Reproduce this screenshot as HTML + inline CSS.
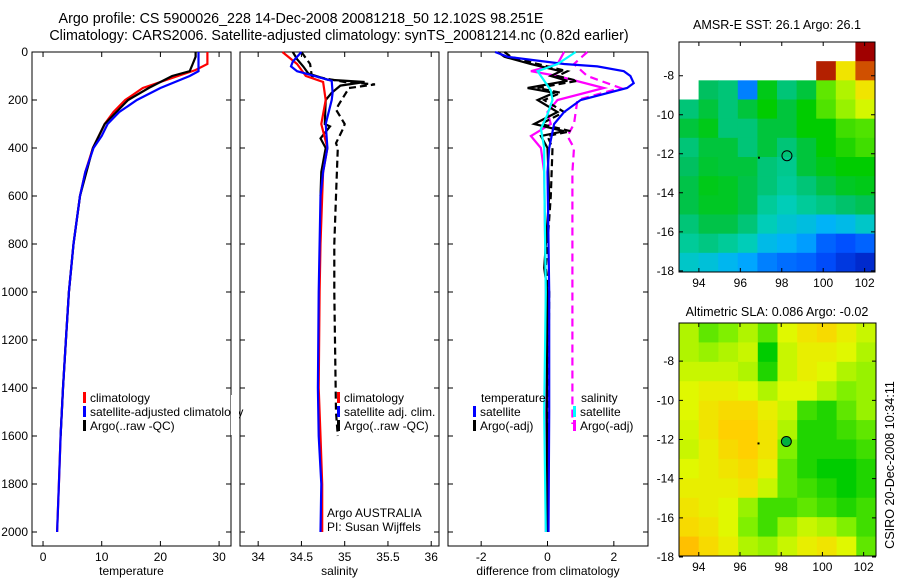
<!DOCTYPE html>
<html><head><meta charset="utf-8"><style>
body{margin:0;background:#fff}
svg{display:block;font-family:"Liberation Sans",sans-serif;font-size:12px}
</style></head><body>
<svg id="c" width="900" height="580" viewBox="0 0 900 580">
<text x="301" y="23" text-anchor="middle" style="font-size:14.3px">Argo profile: CS 5900026_228 14-Dec-2008 20081218_50 12.102S 98.251E</text>
<text x="339" y="40" text-anchor="middle" style="font-size:14.3px">Climatology: CARS2006. Satellite-adjusted climatology: synTS_20081214.nc (0.82d earlier)</text>
<text x="777" y="29" text-anchor="middle" style="font-size:12.6px">AMSR-E SST: 26.1 Argo: 26.1</text>
<text x="777" y="316" text-anchor="middle" style="font-size:12.6px">Altimetric SLA: 0.086 Argo: -0.02</text>
<text transform="translate(894,465) rotate(-90)" text-anchor="middle" style="font-size:12.6px">CSIRO 20-Dec-2008 10:34:11</text>
<g id="g"></g>
</svg>
<script>
// ---- profile data (depth in dbar) ----
const tClimDepth=[0,50,75,100,150,200,250,300,400,500,600,800,1000,1200,1400,1600,1800,2000];
const tClim=[28,28,26,23,17,14,12,10.5,8.5,7.2,6.3,5.2,4.4,3.9,3.4,3.0,2.7,2.4];
const tSatDepth=[0,80,100,150,200,250,300,350,400,500,600,800,1000,1200,1400,1600,1800,2000];
const tSat=[26.5,26.5,25,20,16,13,11,10,8.6,7.2,6.3,5.2,4.4,3.9,3.4,3.0,2.7,2.4];
const tArgoDepth=[0,20,50,80,100,150,200,250,300,400,600,800,1000,1200,1400,1600];
const tArgo=[26,26,25.5,25,22,18,14.5,12.5,10.5,8.5,6.3,5.2,4.4,3.9,3.4,3.0];

const sClimDepth=[0,50,100,125,200,300,400,500,600,800,1000,1400,1600,1800,2000];
const sClim=[34.28,34.45,34.55,34.75,34.78,34.73,34.8,34.75,34.74,34.72,34.71,34.7,34.72,34.74,34.74];
const sSatDepth=[0,40,60,80,90,120,170,200,300,400,500,600,1000,1400,1600,1800,2000];
const sSat=[34.5,34.4,34.38,34.45,34.55,34.85,34.86,34.85,34.78,34.8,34.75,34.72,34.7,34.69,34.7,34.73,34.72];
const sArgoDepth=[0,30,60,90,115,125,140,170,200,300,310,360,400,500,600];
const sArgo=[34.4,34.45,34.52,34.58,34.8,35.23,34.95,34.85,34.78,34.77,34.83,34.72,34.78,34.73,34.72];
const sRawDepth=[0,50,100,125,135,150,220,240,300,320,380,400,600,800,1000,1500,1600];
const sRaw=[34.5,34.6,34.62,35.0,35.35,35.05,34.93,34.9,35.0,34.98,34.9,34.92,34.9,34.88,34.88,34.9,34.92];

const dTSatDepth=[0,20,50,60,80,100,130,150,200,250,300,400,500,1000,1500,2000];
const dTSat=[-1.58,-1.2,0.5,1.5,2.3,2.5,2.6,2.4,1.0,0.5,0.2,0.05,0,0.05,0.05,0.03];
const dSSatDepth=[0,50,80,120,160,200,260,320,400,500,1000,1500,2000];
const dSSat=[0.85,0.3,-0.3,-0.1,0.1,0.15,0,-0.2,-0.1,-0.1,-0.05,-0.1,-0.05];
const dTArgoDepth=[0,20,50,80,100,120,150,170,200,250,300,330,350,400,600,900,1000,1500,2000];
const dTArgo=[-1.5,-1.3,-0.5,0.4,0.1,0.6,-0.6,0.2,-0.3,0.3,-0.4,0.5,-0.2,0,0.05,-0.1,0,-0.02,0];
const dTRaw=[-1.3,-1.1,-0.3,0.6,0.3,0.9,-0.3,0.4,-0.1,0.5,-0.2,0.7,0,0.15,0.1,-0.05,0.05,0.02,0.02];
const dSArgoDepth=[0,50,80,100,150,200,250,300,350,400,500,1000,1500,2000];
const dSArgo=[0.5,0.3,-0.5,0.3,1.7,0.3,0,0.1,-0.5,-0.2,-0.1,-0.05,-0.05,-0.05];
const dSRawDepth=[0,50,100,150,200,300,350,400,500,1000,1550];
const dSRaw=[1.2,0.8,1.2,2.2,0.9,0.8,0.6,0.8,0.75,0.75,0.75];

// ---- map data (colour index 0..1, null = missing) ----
const sstLon=[93.04,102.5], sstLat=[-6.27,-18.06];
const sstGrid=[
[null,null,null,null,null,null,null,null,null,1.0],
[null,null,null,null,null,null,null,0.98,0.8,0.95],
[null,0.52,0.5,0.3,0.58,0.5,0.55,0.66,0.72,0.8],
[0.5,0.55,0.5,0.55,0.6,0.55,0.6,0.65,0.7,0.75],
[0.55,0.58,0.5,0.5,0.55,0.55,0.6,0.6,0.64,0.65],
[0.5,0.55,0.55,0.5,0.55,0.5,0.55,0.6,0.62,0.64],
[0.52,0.56,0.55,0.55,0.5,0.48,0.55,0.58,0.6,0.6],
[0.54,0.58,0.57,0.54,0.5,0.47,0.5,0.54,0.57,0.58],
[0.54,0.57,0.57,0.54,0.47,0.44,0.47,0.49,0.51,0.53],
[0.5,0.54,0.54,0.5,0.44,0.41,0.39,0.36,0.38,0.42],
[0.47,0.49,0.47,0.44,0.38,0.36,0.33,0.27,0.25,0.27],
[0.42,0.4,0.37,0.34,0.3,0.28,0.27,0.24,0.2,0.17]];
const slaLon=[93.04,102.6], slaLat=[-6.05,-17.95];
const slaGrid=[
[0.72,0.66,0.68,0.72,0.66,0.76,0.8,0.82,0.78,0.74],
[0.72,0.7,0.72,0.74,0.6,0.74,0.78,0.78,0.76,0.72],
[0.74,0.74,0.74,0.72,0.62,0.74,0.78,0.76,0.72,0.7],
[0.76,0.78,0.78,0.76,0.72,0.76,0.76,0.72,0.68,0.7],
[0.76,0.8,0.82,0.82,0.78,0.74,0.64,0.62,0.66,0.7],
[0.75,0.8,0.84,0.84,0.8,0.72,0.62,0.62,0.64,0.66],
[0.74,0.78,0.82,0.84,0.8,0.68,0.62,0.62,0.62,0.64],
[0.76,0.78,0.8,0.82,0.78,0.66,0.62,0.6,0.6,0.62],
[0.78,0.78,0.78,0.8,0.74,0.66,0.64,0.62,0.6,0.62],
[0.8,0.78,0.76,0.7,0.64,0.64,0.66,0.64,0.62,0.64],
[0.82,0.8,0.76,0.68,0.64,0.7,0.74,0.72,0.68,0.64],
[0.86,0.82,0.78,0.72,0.7,0.74,0.78,0.8,0.76,0.66]];
const floatPos=[98.25,-12.1];
const depthTicks=[0,200,400,600,800,1000,1200,1400,1600,1800,2000];
const tTicks=[0,10,20,30];
const sTicks=[34,34.5,35,35.5,36];
const dTicks=[-2,0,2];
const lonTicks=[94,96,98,100,102];
const latTicks=[-8,-10,-12,-14,-16,-18];

const NS='http://www.w3.org/2000/svg';
const G=document.getElementById('g');
function mk(t,a,p){const e=document.createElementNS(NS,t);for(const k in a)e.setAttribute(k,a[k]);(p||G).appendChild(e);return e;}
const yD=d=>52+d*0.24;
const stops=[[0,[0,0,143]],[0.15,[0,32,192]],[0.25,[0,80,255]],[0.35,[0,176,255]],[0.45,[0,208,176]],[0.52,[0,192,96]],[0.6,[0,204,0]],[0.68,[128,240,0]],[0.76,[224,248,0]],[0.84,[255,208,0]],[0.9,[255,160,0]],[1,[160,0,0]]];
function col(v){for(let i=1;i<stops.length;i++){if(v<=stops[i][0]){const a=stops[i-1],b=stops[i],f=(v-a[0])/(b[0]-a[0]);return 'rgb('+a[1].map((c,j)=>Math.round(c+(b[1][j]-c)*f)).join(',')+')';}}return 'rgb(160,0,0)';}

function panel(name,x0,x1,v0,v1,ticks,label){
  const sx=v=>x0+(v-v0)/(v1-v0)*(x1-x0);
  const box=mk('rect',{x:x0,y:52,width:x1-x0,height:494,fill:'none',stroke:'#000','stroke-width':1});
  
  
  depthTicks.forEach(d=>{
    const t=mk('path',{d:`M${x0},${yD(d)}h5M${x1},${yD(d)}h-5`,stroke:'#000'});
    
    
    if(name==='temperature'){
      const l=mk('text',{x:x0-4,y:yD(d)+4,'text-anchor':'end'});l.textContent=d;
      
      
    }
  });
  ticks.forEach(v=>{
    const t=mk('path',{d:`M${sx(v)},546v-5M${sx(v)},52v5`,stroke:'#000'});
    
    
    const l=mk('text',{x:sx(v),y:561,'text-anchor':'middle'});l.textContent=v;
    
    
  });
  const xl=mk('text',{x:(x0+x1)/2,y:575,'text-anchor':'middle'});xl.textContent=label;
  
  
  return sx;
}
function line(sx,ds,vs,color,dash,nm){
  const p=mk('polyline',{points:ds.map((d,i)=>sx(vs[i]).toFixed(1)+','+yD(d).toFixed(1)).join(' '),fill:'none',stroke:color,'stroke-width':2.2,'stroke-dasharray':dash||'none'});
  
  
}
function legend(x,y,color,txt,nm){
  const r=mk('rect',{x:x,y:y-10,width:3,height:11,fill:color});
  
  
  const t=mk('text',{x:x+7,y:y});t.textContent=txt;
  
  
}
// panel 1
const sT=panel('temperature',32,231,-1.88,32.03,tTicks,'temperature');
line(sT,tClimDepth,tClim,'#f00','','temp-climatology-line');
line(sT,tArgoDepth,tArgo,'#000','','temp-argo-line');
line(sT,tSatDepth,tSat,'#00f','','temp-satellite-line');
legend(83,402,'#f00','climatology','legend-climatology');
legend(83,416,'#00f','satellite-adjusted climatology','legend-satellite-adjusted');
legend(83,430,'#000','Argo(..raw -QC)','legend-argo-raw');
mk('rect',{x:231,y:395,width:8,height:40,fill:'#fff'});
// panel 2
const sS=panel('salinity',240,439,33.79,36.09,sTicks,'salinity');
line(sS,sRawDepth,sRaw,'#000','7,4','sal-argo-raw-line');
line(sS,sArgoDepth,sArgo,'#000','','sal-argo-line');
line(sS,sClimDepth,sClim,'#f00','','sal-climatology-line');
line(sS,sSatDepth,sSat,'#00f','','sal-satellite-line');
legend(337,402,'#f00','climatology','legend-sal-climatology');
legend(337,416,'#00f','satellite adj. clim.','legend-sal-satellite');
legend(337,430,'#000','Argo(..raw -QC)','legend-sal-argo');
const a1=mk('text',{x:327,y:517});a1.textContent='Argo AUSTRALIA';


const a2=mk('text',{x:327,y:531});a2.textContent='PI: Susan Wijffels';


// panel 3
const sD=panel('difference',448,648,-3.0,3.03,dTicks,'difference from climatology');
line(sD,dSRawDepth,dSRaw,'#f0f','8,5','diff-sal-argo-raw-line');
line(sD,dSArgoDepth,dSArgo,'#f0f','','diff-sal-argo-line');
line(sD,dTArgoDepth,dTRaw,'#000','7,4','diff-temp-argo-raw-line');
line(sD,dTArgoDepth,dTArgo,'#000','','diff-temp-argo-line');
line(sD,dTSatDepth,dTSat,'#00f','','diff-temp-satellite-line');
line(sD,dSSatDepth,dSSat,'#0ff','','diff-sal-satellite-line');
const lt=mk('text',{x:481,y:402});lt.textContent='temperature';


legend(473,416,'#00f','satellite','legend-diff-temp-satellite');
legend(473,430,'#000','Argo(-adj)','legend-diff-temp-argo');
const ls=mk('text',{x:581,y:402});ls.textContent='salinity';


legend(573,416,'#0ff','satellite','legend-diff-sal-satellite');
legend(573,430,'#f0f','Argo(-adj)','legend-diff-sal-argo');

// maps
function map(name,x0,x1,y0,y1,lon,lat,grid,mfill){
  const sx=v=>x0+(v-lon[0])/(lon[1]-lon[0])*(x1-x0);
  const sy=v=>y0+(v-lat[0])/(lat[1]-lat[0])*(y1-y0);
  const nr=grid.length,nc=grid[0].length;
  const dl=(lon[1]-lon[0])/nc,dt=(lat[1]-lat[0])/nr;
  grid.forEach((row,i)=>row.forEach((v,j)=>{
    if(v===null)return;
    const xa=sx(lon[0]+j*dl),xb=sx(lon[0]+(j+1)*dl),ya=sy(lat[0]+i*dt),yb=sy(lat[0]+(i+1)*dt);
    const c=mk('rect',{x:xa,y:ya,width:xb-xa+0.5,height:yb-ya+0.5,fill:col(v)});
    
    
  }));
  const b=mk('rect',{x:x0,y:y0,width:x1-x0,height:y1-y0,fill:'none',stroke:'#000'});
  
  
  lonTicks.forEach(v=>{
    const t=mk('path',{d:`M${sx(v)},${y1}v-4M${sx(v)},${y0}v4`,stroke:'#000'});
    
    
    const l=mk('text',{x:sx(v),y:y1+15,'text-anchor':'middle'});l.textContent=v;
    
    
  });
  latTicks.forEach(v=>{
    const t=mk('path',{d:`M${x0},${sy(v)}h4M${x1},${sy(v)}h-4`,stroke:'#000'});
    
    
    const l=mk('text',{x:x0-5,y:sy(v)+4,'text-anchor':'end'});l.textContent=v;
    
    
  });
  const m=mk('circle',{cx:sx(floatPos[0]),cy:sy(floatPos[1]),r:5,fill:mfill,stroke:'#000'});
  
  
  const d=mk('rect',{x:sx(96.85),y:sy(-12.15),width:2,height:2,fill:'#000'});
  
  
}
map('sst-map',679,875,42,272,sstLon,sstLat,sstGrid,'none');
map('sla-map',679,876,323,556,slaLon,slaLat,slaGrid,'#00b040');
</script>
</body></html>
